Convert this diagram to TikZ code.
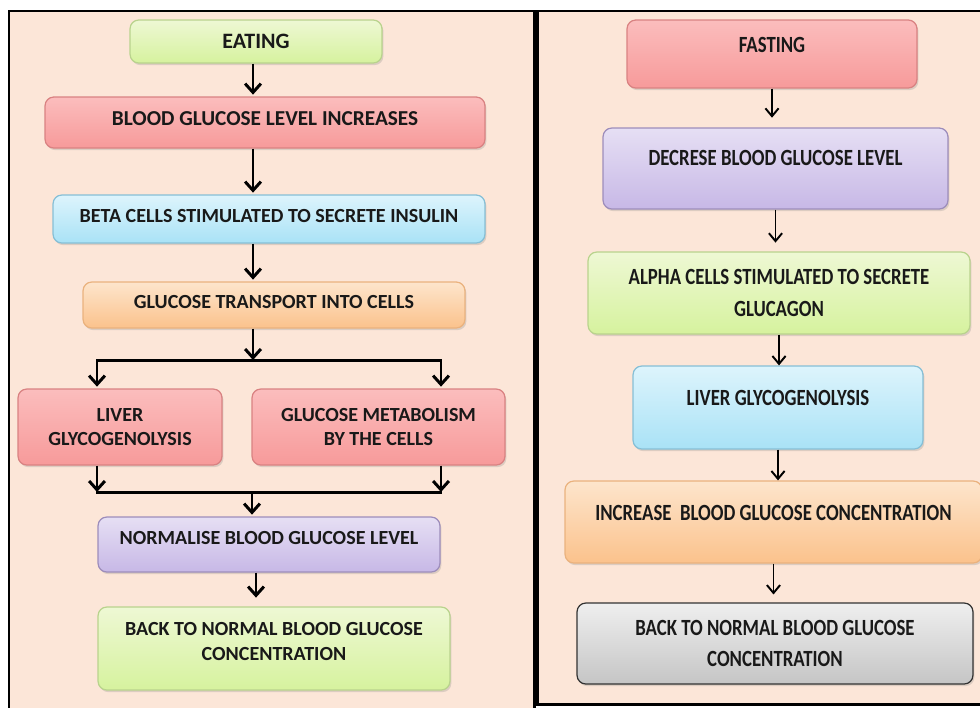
\documentclass[tikz,border=0pt]{standalone}
\usepackage{fontspec}
\setmainfont{Carlito}
\newfontfamily\narrowfont{Carlito}[FakeStretch=0.81]
\usetikzlibrary{arrows.meta,shadows}
\definecolor{peach}{HTML}{FCE6D8}
\definecolor{limeT}{HTML}{EEF8D4}
\definecolor{limeB}{HTML}{D6F29E}
\definecolor{limeD}{HTML}{B9D38D}
\definecolor{roseT}{HTML}{FBBDBD}
\definecolor{roseB}{HTML}{F79A9A}
\definecolor{roseD}{HTML}{D98282}
\definecolor{skyT}{HTML}{DDF4FC}
\definecolor{skyB}{HTML}{A9E2F6}
\definecolor{skyD}{HTML}{86BFD6}
\definecolor{apricotT}{HTML}{FDE5CC}
\definecolor{apricotB}{HTML}{FBC28C}
\definecolor{apricotD}{HTML}{EAB27E}
\definecolor{lilacT}{HTML}{E6DFF4}
\definecolor{lilacB}{HTML}{C7B8E6}
\definecolor{lilacD}{HTML}{9D8DBB}
\definecolor{greyT}{HTML}{EFEFEF}
\definecolor{greyB}{HTML}{C5C5C5}
\definecolor{greyD}{HTML}{333333}

\begin{document}
\begin{tikzpicture}[x=0.02cm,y=-0.02cm,
	flow/.style={rounded corners=5pt,line width=0.7pt,align=center,inner sep=2pt,text=black!90,
		drop shadow={shadow xshift=0.8pt,shadow yshift=-1.2pt,opacity=0.25}},
	eatfont/.style={font=\fontsize{11.4}{14}\selectfont\bfseries},
	fastfont/.style={font=\narrowfont\fontsize{13.2}{18}\selectfont\bfseries},
	limefill/.style={top color=limeT,bottom color=limeB,draw=limeD},
	rosefill/.style={top color=roseT,bottom color=roseB,draw=roseD},
	skyfill/.style={top color=skyT,bottom color=skyB,draw=skyD},
	apricotfill/.style={top color=apricotT,bottom color=apricotB,draw=apricotD},
	lilacfill/.style={top color=lilacT,bottom color=lilacB,draw=lilacD},
	greyfill/.style={top color=greyT,bottom color=greyB,draw=greyD},
	arrL/.style={line width=1.7pt,-{Straight Barb[length=5pt,width=9pt]}},
	arrR/.style={line width=1.1pt,-{Straight Barb[length=4.5pt,width=7.5pt]}},
	barL/.style={line width=1.7pt,line cap=rect}]
	\useasboundingbox (0,0) rectangle (980,707) ;
	% panels
	\fill[white] (0,0) rectangle (980,707) ;
	\draw[line width=1.7pt,fill=peach] (9,11) rectangle (534,715) ;
	\draw[line width=1.7pt,fill=peach] (537.5,11) rectangle (990,704.5) ;
	% eating
	\node[flow,limefill,eatfont,font=\fontsize{12.5}{14}\selectfont\bfseries,minimum width=5.04cm,minimum height=0.86cm] (eat) at (256,41.5) {EATING};
	\node[flow,rosefill,eatfont,font=\fontsize{12.1}{14}\selectfont\bfseries,minimum width=8.8cm,minimum height=1.02cm,text depth=4.5pt] (rise) at (265,122.5) {BLOOD GLUCOSE LEVEL INCREASES};
	\node[flow,skyfill,eatfont,minimum width=8.64cm,minimum height=0.96cm,text depth=3.4pt] (beta) at (269,219) {BETA CELLS STIMULATED TO SECRETE INSULIN};
	\node[flow,apricotfill,eatfont,minimum width=7.64cm,minimum height=0.92cm,text depth=3.4pt] (trans) at (274,305) {GLUCOSE TRANSPORT INTO CELLS};
	\node[flow,rosefill,eatfont,minimum width=4.08cm,minimum height=1.52cm] (liver) at (120,427) {LIVER\\GLYCOGENOLYSIS};
	\node[flow,rosefill,eatfont,minimum width=5.06cm,minimum height=1.52cm] (metab) at (378.5,427) {GLUCOSE METABOLISM\\BY THE CELLS};
	\node[flow,lilacfill,eatfont,minimum width=6.84cm,minimum height=1.1cm,text depth=8pt] (norm) at (269,544.5) {NORMALISE BLOOD GLUCOSE LEVEL};
	\node[flow,limefill,eatfont,minimum width=7.04cm,minimum height=1.66cm,text depth=8pt] (backL) at (274,648.5) {BACK TO NORMAL BLOOD GLUCOSE\\CONCENTRATION};
	% fasting
	\node[flow,rosefill,fastfont,minimum width=5.8cm,minimum height=1.36cm,text depth=10pt] (fast) at (772,54) {FASTING};
	\node[flow,lilacfill,fastfont,minimum width=6.9cm,minimum height=1.62cm,text depth=12pt] (dec) at (775.5,168.5) {DECRESE BLOOD GLUCOSE LEVEL};
	\node[flow,limefill,fastfont,minimum width=7.64cm,minimum height=1.64cm] (alpha) at (779,293) {ALPHA CELLS STIMULATED TO SECRETE\\GLUCAGON};
	\node[flow,skyfill,fastfont,minimum width=5.8cm,minimum height=1.66cm,text depth=11pt] (liverR) at (778,407.5) {LIVER GLYCOGENOLYSIS};
	\node[flow,apricotfill,fastfont,minimum width=8.34cm,minimum height=1.64cm,text depth=10pt] (inc) at (773.5,522) {INCREASE\ \ BLOOD GLUCOSE CONCENTRATION};
	\node[flow,greyfill,fastfont,minimum width=7.92cm,minimum height=1.62cm] (backR) at (775,643.5) {BACK TO NORMAL BLOOD GLUCOSE\\CONCENTRATION};
	% left arrows
	\coordinate (axisL) at (253,0) ;
	\coordinate (axisN) at (256,0) ;
	\coordinate (splitL) at (97,360) ;
	\coordinate (splitC) at (253,360) ;
	\coordinate (splitR) at (441,360) ;
	\coordinate (joinL) at (97,492) ;
	\coordinate (joinC) at (252,492) ;
	\coordinate (joinR) at (441,492) ;
	\draw[arrL,shorten >=1pt] (axisL |- eat.south) -- (axisL |- rise.north) ;
	\draw[arrL,shorten >=1pt] (axisL |- rise.south) -- (axisL |- beta.north) ;
	\draw[arrL,shorten >=1pt] (axisL |- beta.south) -- (axisL |- trans.north) ;
	\draw[arrL] (axisL |- trans.south) -- (splitC) ;
	\draw[barL] (splitL) -- (splitR) ;
	\draw[arrL,shorten >=1pt] (splitL) -- (splitL |- liver.north) ;
	\draw[arrL,shorten >=1pt] (splitR) -- (splitR |- metab.north) ;
	\draw[arrL] (joinL |- liver.south) -- (joinL) ;
	\draw[arrL] (joinR |- metab.south) -- (joinR) ;
	\draw[barL] (joinL) -- (joinR) ;
	\draw[arrL,shorten >=1pt] (joinC) -- (joinC |- norm.north) ;
	\draw[arrL,shorten >=5pt] (axisN |- norm.south) -- (axisN |- backL.north) ;
	% right arrows
	\draw[arrR,shorten >=5.5pt] (fast.south) -- (fast.south |- dec.north) ;
	\draw[arrR,shorten >=5pt] (dec.south) -- (dec.south |- alpha.north) ;
	\draw[arrR] (alpha.south) -- (alpha.south |- liverR.north) ;
	\draw[arrR] (liverR.south) -- (liverR.south |- inc.north) ;
	\draw[arrR,shorten >=4.5pt] (inc.south) -- (inc.south |- backR.north) ;
\end{tikzpicture}
\end{document}
